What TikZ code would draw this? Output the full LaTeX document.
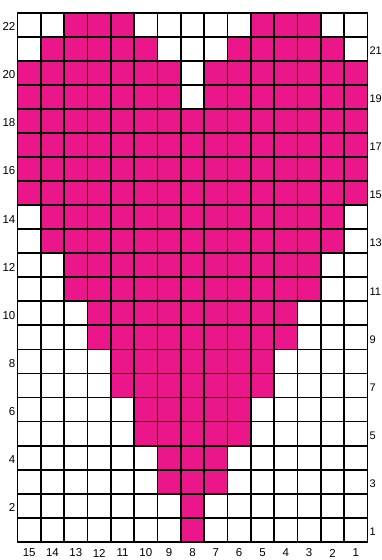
\documentclass[tikz,border=0pt]{standalone}
\usepackage{fontspec}
\setmainfont{Liberation Sans}
\definecolor{heart}{RGB}{234,22,138}
\begin{document}
\begin{tikzpicture}[x=1pt,y=-1pt,
  gridline/.style={line width=1.8pt,black,line cap=rect},
  lab/.style={font=\fontsize{11.5}{12}\selectfont,inner sep=0pt},
  rlab/.style={font=\fontsize{11}{12}\selectfont,inner sep=0pt,anchor=west}]
\useasboundingbox (0,0) rectangle (382,560);
\def\xo{17.5}\def\yo{12.7}\def\cw{23.33}\def\ch{24.05}
% pink cells
\foreach \r/\a/\b in {22/2/4,22/10/12,21/1/5,21/9/13,20/0/6,20/8/14,19/0/6,19/8/14,
  18/0/14,17/0/14,16/0/14,15/0/14,14/1/13,13/1/13,12/2/12,11/2/12,10/3/11,9/3/11,
  8/4/10,7/4/10,6/5/9,5/5/9,4/6/8,3/6/8,2/7/7,1/7/7}{
  \pgfmathsetmacro\xa{\xo+\a*\cw}
  \pgfmathsetmacro\xb{\xo+(\b+1)*\cw}
  \pgfmathsetmacro\ya{\yo+(22-\r)*\ch}
  \pgfmathsetmacro\yb{\yo+(23-\r)*\ch}
  \fill[heart] (\xa,\ya) rectangle (\xb,\yb);
}
% grid lines
\foreach \i in {0,...,15}{
  \pgfmathsetmacro\xx{\xo+\i*\cw}
  \draw[gridline] (\xx,\yo) -- (\xx,{\yo+22*\ch});
}
\foreach \j in {0,...,22}{
  \pgfmathsetmacro\yy{\yo+\j*\ch}
  \draw[gridline] (\xo,\yy) -- ({\xo+15*\cw},\yy);
}
% row labels
\foreach \r in {2,4,...,22}{
  \pgfmathsetmacro\yy{\yo+(22.5-\r)*\ch+2}
  \node[lab,anchor=east] (L\r) at (15.5,\yy) {\r};
}
\foreach \r in {1,3,...,21}{
  \pgfmathsetmacro\yy{\yo+(22.5-\r)*\ch+2}
  \node[rlab] (R\r) at (369.3,\yy) {\r};
}
% column labels
\foreach \c in {0,...,14}{
  \pgfmathsetmacro\xx{\xo+(\c+0.5)*\cw}
  \pgfmathtruncatemacro\n{15-\c}
  \node[lab] (B\n) at (\xx,553) {\n};
}
\end{tikzpicture}
\end{document}
